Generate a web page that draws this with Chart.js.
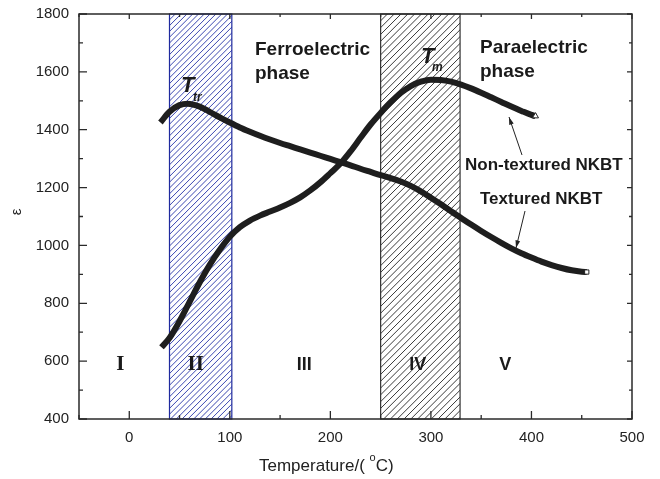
<!DOCTYPE html>
<html lang="en">
<head>
    <meta charset="UTF-8">
    <title>Permittivity vs temperature</title>
    <script src="https://cdn.jsdelivr.net/npm/chart.js@4.4.1/dist/chart.umd.min.js"></script>
    <style>
        html, body { margin: 0; padding: 0; background: #fff; }
        #wrap { width: 660px; height: 479px; }
    </style>
</head>
<body>
<div id="wrap"><canvas id="epsChart" width="660" height="479"></canvas></div>
<script>
    // Non-textured NKBT (triangle end marker)
    const tempNon = [32, 40, 50, 60, 70, 80, 90, 100, 110, 120, 130, 140, 150, 160, 170, 180, 190, 200,
        210, 220, 230, 240, 250, 260, 270, 280, 290, 300, 310, 320, 330, 340, 350, 360, 370, 380, 390, 400, 404];
    const epsNon = [648, 680, 738, 805, 872, 933, 985, 1030, 1063, 1086, 1103, 1117, 1131, 1147, 1166, 1190, 1218, 1250,
        1283, 1325, 1372, 1418, 1458, 1495, 1527, 1551, 1566, 1573, 1572, 1566, 1556, 1543, 1528, 1512, 1496, 1480, 1465, 1451, 1447];

    // Textured NKBT (square end marker)
    const tempTex = [31, 40, 50, 58, 70, 80, 90, 100, 110, 120, 130, 140, 150, 160, 170, 180, 190, 200,
        210, 220, 230, 240, 250, 260, 270, 280, 290, 300, 310, 320, 330, 340, 350, 360, 370, 380, 390, 400,
        410, 420, 430, 440, 450, 455];
    const epsTex = [1425, 1462, 1485, 1490, 1480, 1462, 1443, 1425, 1408, 1393, 1379, 1366, 1354, 1343, 1332, 1321, 1310, 1299,
        1288, 1277, 1265, 1254, 1243, 1233, 1221, 1206, 1187, 1165, 1142, 1118, 1095, 1072, 1050, 1029, 1009, 990, 973, 958,
        944, 932, 922, 914, 909, 908];

    // axis ticks
    const xTicks = [0, 100, 200, 300, 400, 500];
    const xMinor = [-50, 50, 150, 250, 350, 450];
    const yTicks = [400, 600, 800, 1000, 1200, 1400, 1600, 1800];
    const yMinor = [500, 700, 900, 1100, 1300, 1500, 1700];

    // hatched temperature bands [from, to]
    const bandBlue = [40, 102];
    const bandBlack = [250, 329];

    // region numerals and their temperatures
    const regionLabels = ['I', 'II', 'III', 'IV', 'V'];
    const regionTemps = [-9, 66, 174, 287, 374];

    const pts = (xs, ys) => xs.map((x, i) => ({ x: x, y: ys[i] }));
    const endOnly = (n, r) => Array.from({ length: n }, (_, i) => i === n - 1 ? r : 0);

    function hatch(ctx, area, x0, x1, color, gap) {
        ctx.save();
        ctx.beginPath();
        ctx.rect(x0, area.top, x1 - x0, area.bottom - area.top);
        ctx.clip();
        ctx.strokeStyle = color;
        ctx.lineWidth = 1;
        const h = area.bottom - area.top;
        for (let s = x0 - h; s < x1 + 10; s += gap) {
            ctx.beginPath();
            ctx.moveTo(s, area.bottom);
            ctx.lineTo(s + h, area.top);
            ctx.stroke();
        }
        ctx.restore();
    }

    function arrow(ctx, x0, y0, x1, y1) {
        ctx.save();
        ctx.strokeStyle = '#222';
        ctx.fillStyle = '#222';
        ctx.lineWidth = 1;
        ctx.beginPath();
        ctx.moveTo(x0, y0);
        ctx.lineTo(x1, y1);
        ctx.stroke();
        const a = Math.atan2(y1 - y0, x1 - x0);
        ctx.beginPath();
        ctx.moveTo(x1, y1);
        ctx.lineTo(x1 - 8 * Math.cos(a - 0.3), y1 - 8 * Math.sin(a - 0.3));
        ctx.lineTo(x1 - 8 * Math.cos(a + 0.3), y1 - 8 * Math.sin(a + 0.3));
        ctx.closePath();
        ctx.fill();
        ctx.restore();
    }

    const bandsPlugin = {
        id: 'bands',
        beforeDatasetsDraw(chart) {
            const { ctx, chartArea: area, scales: { x } } = chart;
            const b0 = x.getPixelForValue(bandBlue[0]), b1 = x.getPixelForValue(bandBlue[1]);
            const k0 = x.getPixelForValue(bandBlack[0]), k1 = x.getPixelForValue(bandBlack[1]);
            hatch(ctx, area, b0, b1, '#3b47b0', 5.8);
            hatch(ctx, area, k0, k1, '#3a3a3a', 6.8);
            ctx.save();
            ctx.lineWidth = 1.2;
            ctx.strokeStyle = '#1f2a9e';
            ctx.strokeRect(b0, area.top, b1 - b0, area.bottom - area.top);
            ctx.strokeStyle = '#333';
            ctx.strokeRect(k0, area.top, k1 - k0, area.bottom - area.top);
            ctx.restore();
        }
    };

    const decorPlugin = {
        id: 'decor',
        afterDraw(chart) {
            const { ctx, chartArea: area, scales: { x, y } } = chart;
            ctx.save();

            // frame
            ctx.strokeStyle = '#2a2a2a';
            ctx.lineWidth = 1.5;
            ctx.strokeRect(area.left, area.top, area.right - area.left, area.bottom - area.top);

            // inward ticks
            ctx.lineWidth = 1.3;
            ctx.beginPath();
            xTicks.forEach(v => {
                const px = x.getPixelForValue(v);
                ctx.moveTo(px, area.bottom); ctx.lineTo(px, area.bottom - 8);
                ctx.moveTo(px, area.top); ctx.lineTo(px, area.top + 5);
            });
            xMinor.forEach(v => {
                const px = x.getPixelForValue(v);
                ctx.moveTo(px, area.bottom); ctx.lineTo(px, area.bottom - 4);
                ctx.moveTo(px, area.top); ctx.lineTo(px, area.top + 3);
            });
            yTicks.forEach(v => {
                const py = y.getPixelForValue(v);
                ctx.moveTo(area.left, py); ctx.lineTo(area.left + 8, py);
                ctx.moveTo(area.right, py); ctx.lineTo(area.right - 5, py);
            });
            yMinor.forEach(v => {
                const py = y.getPixelForValue(v);
                ctx.moveTo(area.left, py); ctx.lineTo(area.left + 4, py);
                ctx.moveTo(area.right, py); ctx.lineTo(area.right - 3, py);
            });
            ctx.stroke();

            // tick labels
            ctx.fillStyle = '#222';
            ctx.font = '15px "Liberation Sans", Arial, sans-serif';
            ctx.textAlign = 'center';
            ctx.textBaseline = 'alphabetic';
            xTicks.forEach(v => ctx.fillText(String(v), x.getPixelForValue(v), area.bottom + 23));
            ctx.textAlign = 'right';
            ctx.textBaseline = 'middle';
            yTicks.forEach(v => ctx.fillText(String(v), area.left - 10, y.getPixelForValue(v)));

            // axis titles
            ctx.textAlign = 'left';
            ctx.textBaseline = 'alphabetic';
            ctx.font = '17px "Liberation Sans", Arial, sans-serif';
            let tx = 259;
            const part1 = 'Temperature/( ';
            ctx.fillText(part1, tx, 471);
            tx += ctx.measureText(part1).width;
            ctx.font = '11px "Liberation Sans", Arial, sans-serif';
            ctx.fillText('o', tx, 461);
            tx += ctx.measureText('o').width;
            ctx.font = '17px "Liberation Sans", Arial, sans-serif';
            ctx.fillText('C)', tx, 471);

            ctx.save();
            ctx.translate(21, 212);
            ctx.rotate(-Math.PI / 2);
            ctx.textAlign = 'center';
            ctx.font = '15px "Liberation Sans", Arial, sans-serif';
            ctx.fillText('ε', 0, 0);
            ctx.restore();

            // phase labels
            ctx.fillStyle = '#1a1a1a';
            ctx.font = 'bold 19px "Liberation Sans", Arial, sans-serif';
            ctx.fillText('Ferroelectric', 255, 55);
            ctx.fillText('phase', 255, 79);
            ctx.fillText('Paraelectric', 480, 53);
            ctx.fillText('phase', 480, 77);

            // sample labels
            ctx.font = 'bold 17px "Liberation Sans", Arial, sans-serif';
            ctx.fillText('Non-textured NKBT', 465, 170);
            ctx.fillText('Textured NKBT', 480, 204);
            arrow(ctx, 522, 155, 509, 117);
            arrow(ctx, 525, 211, 516, 248);

            // T_tr and T_m
            ctx.font = 'italic bold 22px "Liberation Sans", Arial, sans-serif';
            ctx.fillText('T', 181, 92);
            ctx.fillText('T', 421, 63);
            ctx.font = 'italic bold 12px "Liberation Sans", Arial, sans-serif';
            ctx.fillText('tr', 193, 101);
            ctx.fillText('m', 432, 71);

            // region numerals
            ctx.textAlign = 'center';
            regionLabels.forEach((t, i) => {
                ctx.font = i < 2 ? 'bold 21px "Liberation Serif", "Times New Roman", serif'
                                 : 'bold 18px "Liberation Sans", Arial, sans-serif';
                ctx.fillText(t, x.getPixelForValue(regionTemps[i]), 370);
            });

            ctx.restore();
        }
    };

    new Chart(document.getElementById('epsChart').getContext('2d'), {
        type: 'line',
        data: {
            datasets: [{
                label: 'Non-textured NKBT',
                data: pts(tempNon, epsNon),
                borderColor: '#1e1e1e',
                borderWidth: 6,
                cubicInterpolationMode: 'monotone',
                pointRadius: endOnly(tempNon.length, 3.5),
                pointStyle: 'triangle',
                pointBackgroundColor: '#fff',
                pointBorderColor: '#222',
                pointBorderWidth: 1
            }, {
                label: 'Textured NKBT',
                data: pts(tempTex, epsTex),
                borderColor: '#1e1e1e',
                borderWidth: 6,
                cubicInterpolationMode: 'monotone',
                pointRadius: endOnly(tempTex.length, 3),
                pointStyle: 'rect',
                pointBackgroundColor: '#fff',
                pointBorderColor: '#222',
                pointBorderWidth: 1
            }]
        },
        options: {
            responsive: false,
            animation: false,
            layout: { padding: { left: 0, top: 14, right: 28, bottom: 0 } },
            plugins: { legend: { display: false }, tooltip: { enabled: false } },
            scales: {
                x: {
                    type: 'linear', min: -50, max: 500,
                    grid: { display: false }, border: { display: false },
                    ticks: { display: false },
                    afterFit: s => { s.height = 60; }
                },
                y: {
                    min: 400, max: 1800,
                    grid: { display: false }, border: { display: false },
                    ticks: { display: false },
                    afterFit: s => { s.width = 79; }
                }
            }
        },
        plugins: [bandsPlugin, decorPlugin]
    });
</script>
</body>
</html>
